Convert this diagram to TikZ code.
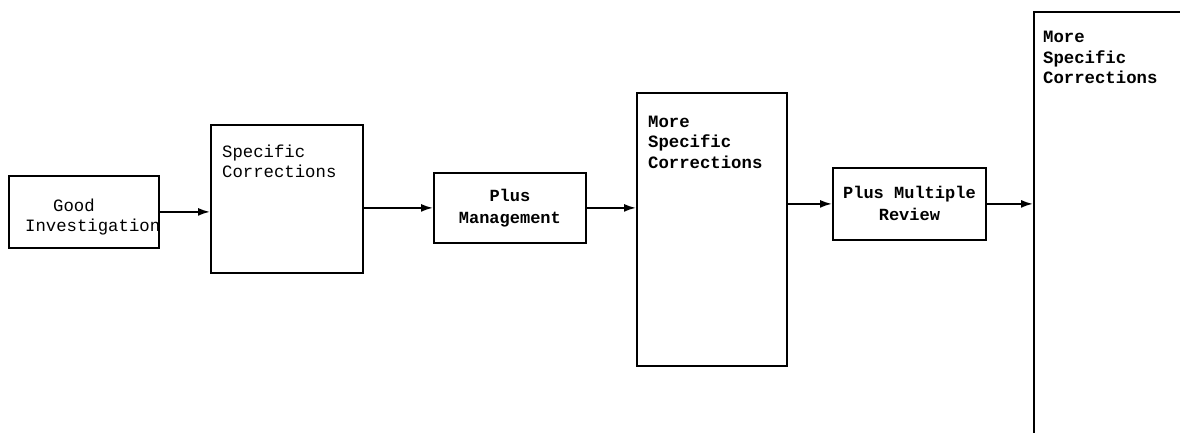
\documentclass[tikz,border=0pt]{standalone}
\usepackage{fontspec}
\newfontfamily\tw{Liberation Mono}
\newfontfamily\twb{Liberation Mono Bold}
\usetikzlibrary{arrows.meta}
\begin{document}
\begin{tikzpicture}[x=1pt,y=-1pt,
  box/.style={draw, line width=1.8pt, rectangle, inner sep=0pt, anchor=north west,
    align=center, font=\twb\fontsize{17}{22}\selectfont},
  txt/.style={inner sep=0pt, align=left, anchor=base west},
  light/.style={font=\tw\fontsize{17.3}{20}\selectfont},
  heavy/.style={font=\twb\fontsize{17.3}{20.5}\selectfont},
  link/.style={line width=1.8pt, -{Latex[length=12pt,width=8pt]}}
]
\useasboundingbox (0,0) rectangle (1180,433);

% process boxes
\node[box, minimum width=150pt, minimum height=72pt]  (b1) at (8,175) {};
\node[box, minimum width=152pt, minimum height=148pt] (b2) at (210,124) {};
\node[box, minimum width=152pt, minimum height=70pt]  (b3) at (433,172) {Plus\\Management};
\node[box, minimum width=150pt, minimum height=273pt] (b4) at (636,92) {};
\node[box, minimum width=153pt, minimum height=72pt]  (b5) at (832,167) {Plus Multiple\\Review};
\begin{scope}
  \clip (0,0) rectangle (1180,433);
  \node[box, minimum width=300pt, minimum height=500pt] (b6) at (1033,11) {};
\end{scope}

% box captions (anchored on the baseline of their last line)
\node[txt, light] (t1) at (25,231) {\hspace*{28pt}Good\\Investigation};
\node[txt, light] (t2) at (222,177) {Specific\\Corrections};
\node[txt, heavy] (t4) at (648,168) {More\\Specific\\Corrections};
\node[txt, heavy] (t6) at (1043,84) {More\\Specific\\Corrections};

% flow arrows
\draw[link] (b1.east) -- (b1.east -| b2.west);
\draw[link] (b2.east |- b3.west) -- (b3.west);
\draw[link] (b3.east) -- (b3.east -| b4.west);
\draw[link] (b4.east |- b5.west) -- (b5.west);
\draw[link] (b5.east) -- (b5.east -| b6.west);
\end{tikzpicture}
\end{document}
